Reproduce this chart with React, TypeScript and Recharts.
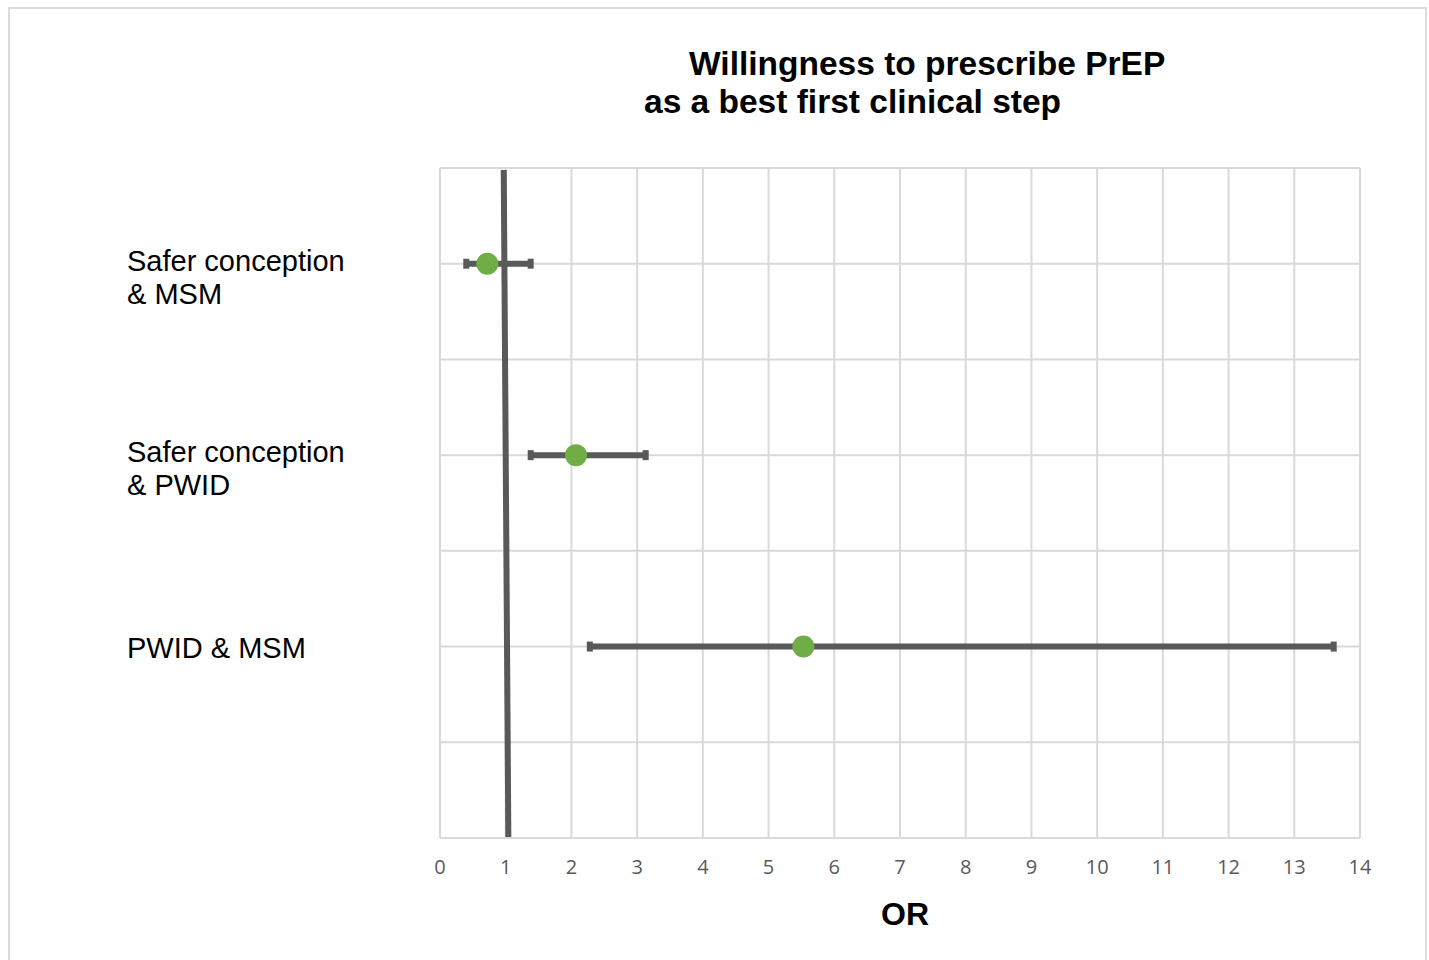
import React from 'react';
import { ScatterChart, Scatter, XAxis, YAxis, CartesianGrid, ErrorBar, ReferenceLine } from 'recharts';

const groups = ['Safer conception\n& MSM', 'Safer conception\n& PWID', 'PWID & MSM'];
const rowPos = [6, 4, 2];
const oddsRatio = [0.72, 2.07, 5.53];
const ciLow = [0.4, 1.38, 2.28];
const ciHigh = [1.38, 3.13, 13.6];
const xTicks = [0, 1, 2, 3, 4, 5, 6, 7, 8, 9, 10, 11, 12, 13, 14];
const yTicks = [0, 1, 2, 3, 4, 5, 6, 7];

const points = groups.map((g, i) => ({
    name: g,
    or: oddsRatio[i],
    y: rowPos[i],
    err: [oddsRatio[i] - ciLow[i], ciHigh[i] - oddsRatio[i]],
}));

const FONT = '"Liberation Sans", Arial, sans-serif';

function GroupTick(props: any) {
    const { y, payload } = props;
    const idx = rowPos.indexOf(payload.value);
    if (idx < 0) return null;
    const lines = groups[idx].split('\n');
    const startY = lines.length === 1 ? y + 11 : y + 7;
    return (
        <text x={127} y={startY} fill="#000" fontSize={29} fontFamily={FONT} textAnchor="start" style={{ whiteSpace: 'pre' }}>
            {lines.map((l, k) => (
                <tspan key={k} x={127} dy={k === 0 ? 0 : 33}>{l}</tspan>
            ))}
        </text>
    );
}

function Dot(props: any) {
    const { cx, cy } = props;
    return <circle cx={cx} cy={cy} r={11} fill="#70ad47" />;
}

export default function App() {
    return (
        <div style={{ position: 'absolute', left: 0, top: 0, width: 1429, height: 960, background: '#fff' }}>
            <div style={{ position: 'absolute', left: 8, top: 7, width: 1419, height: 960, border: '2px solid #dcdcdc', borderBottom: 'none', boxSizing: 'border-box' }} />
            <div style={{ position: 'absolute', left: 0, top: 45, width: 1429, fontFamily: FONT, fontWeight: 'bold', fontSize: 33.5, color: '#000', lineHeight: '38px' }}>
                <div style={{ position: 'absolute', left: 689, top: 0, whiteSpace: 'nowrap' }}>Willingness to prescribe PrEP</div>
                <div style={{ position: 'absolute', left: 644, top: 38, whiteSpace: 'nowrap' }}>as a best first clinical step</div>
            </div>
            <div style={{ position: 'absolute', left: 0, top: 0 }}>
                <ScatterChart width={1429} height={960} margin={{ top: 168, right: 69, bottom: 0, left: 0 }}>
                    <CartesianGrid stroke="#d9d9d9" strokeWidth={2} />
                    <XAxis
                        type="number"
                        dataKey="or"
                        domain={[0, 14]}
                        ticks={xTicks}
                        interval={0}
                        stroke="#d9d9d9"
                        strokeWidth={2}
                        tickLine={false}
                        tick={{ fill: '#595959', fontSize: 20, fontFamily: '"Open Sans", sans-serif', dy: 14 }}
                        height={122}
                        label={{ value: 'OR', position: 'insideTop', offset: 64, fill: '#000', fontSize: 32, fontWeight: 'bold', fontFamily: FONT, dx: 5 }}
                    />
                    <YAxis
                        type="number"
                        dataKey="y"
                        domain={[0, 7]}
                        ticks={yTicks}
                        interval={0}
                        width={440}
                        axisLine={false}
                        tickLine={false}
                        tick={<GroupTick />}
                    />
                    <ReferenceLine
                        segment={[{ x: 0.97, y: 6.98 }, { x: 1.04, y: 0 }]}
                        stroke="#595959"
                        strokeWidth={6}
                    />
                    <Scatter data={points} shape={<Dot />} isAnimationActive={false}>
                        <ErrorBar dataKey="err" direction="x" width={5} stroke="#595959" strokeWidth={6} isAnimationActive={false} />
                    </Scatter>
                </ScatterChart>
            </div>
        </div>
    );
}
